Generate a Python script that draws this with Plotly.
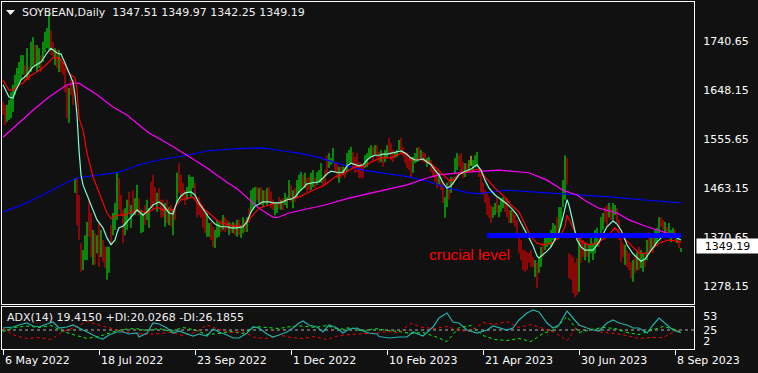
import plotly.graph_objects as go

# ------------------------------------------------------------------ data
# daily bars (index 0 = 6 May 2022), prices read from the picture
bar_high = [
    1626, 1620, 1620, 1629, 1644, 1658, 1677, 1690, 1701, 1714,
    1714, 1695, 1727, 1692, 1739, 1748, 1733, 1733, 1727, 1714,
    1739, 1758, 1765, 1795, 1761, 1739, 1727, 1724, 1724, 1709,
    1701, 1690, 1658, 1652, 1677, 1667, 1482, 1484, 1450, 1359,
    1346, 1374, 1399, 1441, 1416, 1384, 1378, 1374, 1397, 1384,
    1365, 1352, 1352, 1352, 1393, 1416, 1435, 1492, 1482, 1450,
    1422, 1425, 1441, 1456, 1431, 1459, 1444, 1469, 1444, 1422,
    1416, 1431, 1441, 1425, 1475, 1488, 1465, 1454, 1463, 1441,
    1441, 1435, 1441, 1427, 1431, 1422, 1431, 1492, 1510, 1488,
    1473, 1459, 1465, 1488, 1484, 1484, 1473, 1441, 1446, 1437,
    1431, 1416, 1416, 1397, 1399, 1390, 1384, 1403, 1397, 1403,
    1412, 1408, 1403, 1399, 1397, 1399, 1397, 1403, 1403, 1393,
    1408, 1403, 1408, 1425, 1459, 1463, 1465, 1465, 1463, 1465,
    1459, 1459, 1463, 1465, 1456, 1441, 1437, 1435, 1446, 1441,
    1444, 1454, 1446, 1478, 1469, 1459, 1463, 1478, 1488, 1493,
    1488, 1492, 1482, 1484, 1492, 1497, 1482, 1493, 1497, 1510,
    1482, 1497, 1525, 1529, 1520, 1539, 1512, 1510, 1503, 1503,
    1503, 1503, 1529, 1535, 1541, 1531, 1522, 1529, 1512, 1510,
    1507, 1525, 1529, 1539, 1544, 1541, 1544, 1544, 1531, 1535,
    1529, 1535, 1544, 1558, 1548, 1535, 1531, 1535, 1554, 1558,
    1541, 1529, 1529, 1520, 1516, 1522, 1529, 1539, 1541, 1535,
    1531, 1529, 1520, 1522, 1516, 1507, 1503, 1497, 1492, 1484,
    1475, 1446, 1473, 1478, 1484, 1484, 1520, 1529, 1525, 1529,
    1512, 1510, 1510, 1516, 1524, 1516, 1525, 1531, 1503, 1492,
    1473, 1459, 1454, 1446, 1431, 1427, 1435, 1446, 1431, 1444,
    1446, 1444, 1444, 1422, 1422, 1422, 1412, 1403, 1371, 1365,
    1346, 1346, 1342, 1340, 1346, 1333, 1327, 1322, 1331, 1352,
    1359, 1371, 1374, 1374, 1384, 1397, 1393, 1408, 1427, 1427,
    1478, 1525, 1520, 1340, 1337, 1333, 1322, 1331, 1371, 1378,
    1365, 1359, 1359, 1356, 1369, 1359, 1384, 1388, 1378, 1408,
    1416, 1427, 1431, 1435, 1427, 1435, 1431, 1425, 1403, 1371,
    1359, 1356, 1346, 1340, 1323, 1327, 1337, 1342, 1352, 1346,
    1340, 1342, 1365, 1380, 1374, 1378, 1384, 1388, 1408, 1408,
    1403, 1399, 1390, 1397, 1384, 1388, 1384, 1378, 1374, 1349.97,
]
bar_low = [
    1601, 1582, 1588, 1592, 1595, 1607, 1639, 1652, 1658, 1667,
    1677, 1663, 1671, 1667, 1682, 1695, 1690, 1682, 1690, 1682,
    1701, 1720, 1727, 1724, 1714, 1709, 1695, 1690, 1682, 1682,
    1677, 1644, 1595, 1586, 1639, 1620, 1454, 1393, 1365, 1305,
    1308, 1327, 1327, 1371, 1333, 1318, 1318, 1340, 1314, 1333,
    1323, 1312, 1290, 1303, 1356, 1374, 1384, 1403, 1422, 1412,
    1359, 1374, 1384, 1416, 1388, 1412, 1412, 1418, 1412, 1378,
    1380, 1393, 1403, 1388, 1425, 1422, 1435, 1418, 1431, 1407,
    1408, 1390, 1397, 1393, 1390, 1374, 1403, 1435, 1454, 1441,
    1444, 1431, 1441, 1454, 1446, 1463, 1441, 1408, 1412, 1407,
    1388, 1378, 1371, 1371, 1365, 1352, 1350, 1369, 1371, 1380,
    1384, 1380, 1384, 1374, 1378, 1378, 1374, 1371, 1374, 1369,
    1378, 1380, 1380, 1397, 1416, 1422, 1431, 1441, 1435, 1431,
    1427, 1435, 1431, 1437, 1425, 1422, 1412, 1416, 1425, 1422,
    1422, 1431, 1425, 1441, 1437, 1425, 1437, 1444, 1454, 1459,
    1465, 1463, 1456, 1459, 1459, 1465, 1463, 1469, 1473, 1473,
    1465, 1469, 1492, 1501, 1507, 1510, 1492, 1482, 1473, 1482,
    1488, 1482, 1493, 1510, 1510, 1501, 1492, 1493, 1482, 1482,
    1482, 1501, 1503, 1520, 1522, 1512, 1525, 1520, 1510, 1512,
    1503, 1512, 1520, 1529, 1516, 1512, 1520, 1522, 1535, 1529,
    1522, 1510, 1501, 1497, 1482, 1492, 1510, 1512, 1516, 1516,
    1512, 1510, 1503, 1510, 1493, 1484, 1475, 1463, 1469, 1459,
    1435, 1407, 1427, 1441, 1454, 1469, 1492, 1497, 1503, 1492,
    1482, 1484, 1493, 1493, 1505, 1493, 1503, 1503, 1484, 1454,
    1450, 1435, 1412, 1407, 1397, 1407, 1412, 1416, 1408, 1418,
    1425, 1418, 1408, 1397, 1397, 1397, 1390, 1374, 1340, 1327,
    1308, 1305, 1308, 1322, 1314, 1314, 1295, 1274, 1303, 1314,
    1333, 1346, 1352, 1356, 1352, 1365, 1365, 1378, 1380, 1390,
    1427, 1441, 1469, 1293, 1290, 1265, 1257, 1261, 1267, 1322,
    1333, 1327, 1333, 1322, 1340, 1327, 1340, 1352, 1352, 1369,
    1384, 1399, 1390, 1408, 1403, 1403, 1412, 1397, 1365, 1323,
    1333, 1318, 1314, 1308, 1293, 1286, 1303, 1308, 1308, 1312,
    1305, 1314, 1327, 1342, 1346, 1340, 1352, 1359, 1378, 1390,
    1384, 1378, 1369, 1374, 1361, 1371, 1365, 1359, 1350, 1342.25,
]
# G = up bar, R = down bar, Y = doji
bar_dir = list(
    "RRGGGGGGGG" "GRGRGGRGGR" "GGGGRRGRGR" "RRRGRRGRRR" "GGGRRGRGRG"
    "RRGGRGGGRR" "RGGRGRGGRG" "GRGGRRRGRR" "RGRGRGRGRR" "RRGGGGRRRR"
    "RRGGRRGGGR" "GRRGRGRGRG" "GRGRGGGRGR" "GRGRRRGGRG" "RGGGRGRGGG"
    "RGRRGGRGGG" "RRRGGGRRGR" "GRGGGRRRRR" "RGGGGRGRRG" "RGGRRRGGGR"
    "RRRRRGGGRG" "RRGGRRRRGR" "RGGRGRGGRR" "RGRGYGGGRR" "RRRRRGGRGG"
    "GRRRGRRRRR" "RRRRRRGRGG" "RGGGGGGRGG" "GGRRRRRRGR" "RGRGGGGGRG"
    "GRRGRGGRRR" "RGRRRGRGRG" "GRGRGRGGGR" "RGRGGGRGRG"
)

# fast moving average (aquamarine)
fast_idx = [0, 3, 5, 6, 9, 12, 15, 19, 22, 24, 27, 29, 31, 34, 35, 36, 37, 38, 39, 40,
            42, 44, 47, 50, 52, 54, 56, 57, 58, 60, 62, 64, 67, 70, 72, 75, 78, 80, 83, 85,
            87, 89, 91, 94, 96, 98, 101, 103, 106, 109, 112, 114, 117, 120, 122, 124, 126, 128, 130, 133,
            135, 138, 140, 142, 144, 146, 148, 150, 152, 155, 158, 160, 162, 164, 166, 168, 170, 172, 174, 176,
            178, 180, 182, 184, 186, 188, 190, 192, 194, 196, 199, 201, 204, 206, 208, 210, 212, 214, 216, 218,
            220, 222, 224, 226, 228, 230, 234, 237, 239, 241, 243, 246, 249, 252, 255, 257, 259, 261, 263, 265,
            267, 268, 270, 272, 274, 276, 278, 280, 282, 283, 285, 287, 289, 291, 295, 298, 300, 302, 305, 307,
            309, 312, 315, 317, 319, 321, 324, 327, 329, 331, 334, 336, 338, 339]
fast_val = [1658, 1635, 1633, 1644, 1667, 1677, 1692, 1701, 1718, 1727, 1718, 1716, 1699, 1671, 1663, 1639, 1601, 1535, 1488, 1469,
            1450, 1431, 1403, 1388, 1369, 1356, 1365, 1378, 1388, 1391, 1399, 1408, 1422, 1412, 1418, 1431, 1437, 1431, 1416, 1414,
            1437, 1448, 1454, 1456, 1450, 1435, 1418, 1407, 1395, 1390, 1390, 1388, 1388, 1390, 1399, 1418, 1429, 1433, 1437, 1437,
            1435, 1435, 1437, 1441, 1442, 1446, 1456, 1463, 1471, 1473, 1475, 1482, 1490, 1495, 1493, 1492, 1493, 1505, 1510, 1508,
            1505, 1507, 1516, 1522, 1525, 1525, 1527, 1527, 1529, 1531, 1533, 1529, 1520, 1516, 1516, 1518, 1512, 1507, 1497, 1488,
            1473, 1463, 1467, 1478, 1488, 1493, 1499, 1507, 1497, 1478, 1463, 1450, 1441, 1433, 1422, 1412, 1397, 1384, 1369, 1354,
            1335, 1331, 1337, 1344, 1352, 1365, 1380, 1408, 1441, 1431, 1399, 1365, 1352, 1346, 1346, 1361, 1376, 1390, 1401, 1395,
            1384, 1356, 1339, 1331, 1325, 1329, 1346, 1361, 1369, 1373, 1371, 1371, 1367, 1365]

# slower moving average (red)
mid_idx = [0, 3, 5, 8, 10, 13, 17, 20, 23, 25, 28, 31, 33, 36, 37, 38, 40, 42, 45, 48,
           52, 54, 57, 61, 67, 72, 77, 80, 85, 89, 95, 98, 103, 108, 115, 120, 122, 125, 128, 133,
           138, 143, 148, 155, 160, 163, 166, 169, 173, 176, 181, 184, 189, 194, 199, 202, 204, 209, 213, 216,
           219, 223, 225, 228, 231, 235, 238, 241, 246, 251, 254, 258, 261, 264, 267, 270, 274, 278, 281, 282,
           285, 288, 293, 297, 302, 306, 308, 313, 318, 322, 325, 328, 333, 339]
mid_val = [1667, 1648, 1648, 1658, 1661, 1673, 1682, 1690, 1701, 1709, 1709, 1695, 1680, 1671, 1648, 1595, 1573, 1529, 1484, 1454,
           1416, 1405, 1412, 1412, 1422, 1416, 1427, 1422, 1422, 1441, 1446, 1431, 1416, 1399, 1391, 1391, 1399, 1412, 1425, 1431,
           1435, 1442, 1446, 1459, 1467, 1475, 1484, 1488, 1497, 1503, 1505, 1512, 1520, 1520, 1529, 1529, 1516, 1518, 1512, 1503,
           1492, 1478, 1478, 1490, 1493, 1497, 1499, 1484, 1463, 1446, 1431, 1418, 1393, 1371, 1359, 1356, 1359, 1369, 1390, 1412,
           1388, 1365, 1356, 1359, 1371, 1388, 1378, 1359, 1340, 1340, 1350, 1359, 1365, 1361]

# 50-period moving average (magenta)
ma50_idx = [0, 4, 8, 15, 23, 32, 36, 38, 47, 55, 62, 65, 70, 73, 82, 92, 102, 112, 118, 125,
            128, 135, 137, 143, 153, 161, 173, 190, 202, 212, 218, 232, 240, 248, 263, 272, 280, 287, 292, 298,
            307, 313, 322, 330, 338, 339]
ma50_val = [1559, 1573, 1586, 1610, 1635, 1658, 1661, 1661, 1639, 1616, 1601, 1591, 1576, 1567, 1548, 1525, 1501, 1474, 1459, 1435,
            1425, 1408, 1407, 1416, 1424, 1431, 1444, 1459, 1469, 1482, 1488, 1493, 1495, 1497, 1492, 1478, 1459, 1450, 1437, 1425,
            1416, 1403, 1390, 1380, 1371, 1370]

# 200-period moving average (blue)
ma200_idx = [0, 8, 20, 32, 37, 48, 58, 68, 78, 92, 102, 115, 130, 140, 148, 157, 167, 180, 193, 203,
             213, 223, 232, 237, 243, 252, 272, 288, 305, 322, 338, 339]
ma200_val = [1418, 1429, 1450, 1474, 1482, 1488, 1493, 1507, 1516, 1525, 1533, 1537, 1539, 1533, 1529, 1522, 1510, 1497, 1490, 1484,
             1475, 1463, 1455, 1452, 1455, 1459, 1454, 1450, 1446, 1440, 1435, 1435]

# ADX(14) panel
adx_idx = [0, 5, 8, 12, 15, 18, 22, 25, 28, 32, 35, 38, 42, 45, 48, 50, 53, 57, 60, 63,
           67, 68, 72, 75, 78, 82, 85, 88, 92, 95, 98, 102, 105, 108, 112, 115, 118, 122, 125, 128,
           132, 135, 138, 142, 145, 148, 150, 153, 157, 160, 163, 167, 170, 173, 177, 180, 183, 187, 188, 193,
           198, 202, 205, 210, 215, 218, 222, 225, 228, 232, 237, 242, 245, 248, 252, 255, 258, 262, 265, 268,
           272, 275, 278, 282, 285, 288, 292, 295, 298, 302, 305, 308, 312, 315, 318, 322, 325, 328, 332, 335, 339]
adx_val = [29, 31, 35, 39, 33, 31, 37, 41, 29, 31, 35, 29, 21, 15, 9, 7, 15, 21, 21, 17,
           19, 11, 19, 39, 37, 29, 19, 23, 17, 13, 17, 13, 27, 21, 15, 9, 9, 19, 31, 29,
           17, 11, 15, 21, 29, 39, 43, 35, 31, 21, 35, 29, 19, 27, 29, 23, 19, 17, 12, 9,
           11, 11, 21, 13, 31, 49, 59, 41, 39, 25, 19, 25, 33, 29, 25, 29, 45, 59, 65, 61,
           39, 29, 35, 63, 49, 35, 29, 25, 23, 39, 45, 39, 35, 29, 29, 19, 35, 49, 35, 25, 19.415]
di_idx = [0, 6, 12, 18, 24, 30, 36, 42, 48, 54, 60, 66, 72, 78, 84, 90, 96, 102, 108, 114,
          120, 126, 132, 138, 144, 150, 156, 162, 168, 174, 180, 186, 192, 198, 204, 210, 216, 222, 228, 234,
          240, 246, 252, 258, 264, 270, 276, 282, 288, 294, 300, 306, 312, 318, 324, 330, 336, 339]
plus_di = [22, 30, 33, 30, 34, 22, 15, 8, 12, 20, 26, 28, 24, 28, 22, 30, 25, 16, 18, 22,
           18, 32, 30, 28, 32, 33, 30, 34, 26, 30, 22, 28, 24, 22, 18, 20, 12, 2, 30, 34,
           14, 6, 4, 8, 2, 18, 26, 52, 20, 26, 30, 28, 20, 16, 24, 32, 26, 20.0268]
minus_di = [28, 14, 8, 10, 6, 22, 30, 42, 35, 28, 22, 18, 16, 18, 20, 14, 20, 35, 26, 20,
            22, 10, 8, 15, 10, 8, 12, 6, 14, 16, 18, 18, 22, 20, 38, 30, 28, 32, 24, 22,
            40, 36, 42, 30, 36, 28, 20, 4, 36, 26, 20, 18, 14, 8, 10, 10, 22, 26.1855]

price_ticks = [1278.15, 1370.65, 1463.15, 1555.65, 1648.15, 1740.65]
adx_ticks = [2, 25, 53]
adx_levels = [25]
date_idx = [0, 48, 96, 144, 192, 240, 288, 336]
date_labels = ["6 May 2022", "18 Jul 2022", "23 Sep 2022", "1 Dec 2022",
               "10 Feb 2023", "21 Apr 2023", "30 Jun 2023", "8 Sep 2023"]
crucial_level = 1373.5
crucial_from, crucial_to = 242, 339
last_ohlc = [1347.51, 1349.97, 1342.25, 1349.19]
adx_last = [19.4150, 20.0268, 26.1855]

# ------------------------------------------------------------------ figure
W, H = 758, 373
BG = "#111111"
FONT = "DejaVu Sans"


def fx(p):
    return p / W


def fy(p):
    return 1 - p / H


fig = go.Figure()

# price bars: one vertical low-high segment per day, one trace per colour
bar_colors = {"G": "#00ff00", "R": "#ff0000", "Y": "#ffff00"}
for d, col in bar_colors.items():
    xs, ys = [], []
    for i, dd in enumerate(bar_dir):
        if dd == d:
            xs += [i, i, None]
            ys += [bar_low[i], bar_high[i], None]
    fig.add_trace(go.Scatter(x=xs, y=ys, mode="lines", line=dict(color=col, width=1),
                             hoverinfo="skip", xaxis="x", yaxis="y"))

for xi, yv, col in [(ma200_idx, ma200_val, "#0000ff"), (ma50_idx, ma50_val, "#ff00ff"),
                    (mid_idx, mid_val, "#ff0000"), (fast_idx, fast_val, "#7fffd4")]:
    fig.add_trace(go.Scatter(x=xi, y=yv, mode="lines", line=dict(color=col, width=1.2),
                             hoverinfo="skip", xaxis="x", yaxis="y"))

# crucial level band
fig.add_trace(go.Scatter(x=[crucial_from, crucial_to], y=[crucial_level, crucial_level], mode="lines",
                         line=dict(color="#0000ff", width=5), hoverinfo="skip", xaxis="x", yaxis="y"))

# ADX panel
for lv in adx_levels:
    fig.add_trace(go.Scatter(x=[-1, 346], y=[lv, lv], mode="lines",
                             line=dict(color="#b0b0b0", width=1, dash="3px,3px"),
                             hoverinfo="skip", xaxis="x2", yaxis="y2"))
fig.add_trace(go.Scatter(x=di_idx, y=plus_di, mode="lines", line=dict(color="#00ff00", width=1, dash="3px,3px"),
                         hoverinfo="skip", xaxis="x2", yaxis="y2"))
fig.add_trace(go.Scatter(x=di_idx, y=minus_di, mode="lines", line=dict(color="#ff0000", width=1, dash="3px,3px"),
                         hoverinfo="skip", xaxis="x2", yaxis="y2"))
fig.add_trace(go.Scatter(x=adx_idx, y=adx_val, mode="lines", line=dict(color="#20b2aa", width=1.2),
                         hoverinfo="skip", xaxis="x2", yaxis="y2"))

xr = [-0.5, 345.5]
axis_common = dict(showgrid=False, zeroline=False, showline=True, linecolor="#ffffff", linewidth=1, mirror=True)
fig.update_layout(
    width=W, height=H, margin=dict(l=0, r=0, t=0, b=0), autosize=False,
    paper_bgcolor=BG, plot_bgcolor=BG, showlegend=False,
    xaxis=dict(domain=[fx(2), fx(694)], range=xr, showticklabels=False, ticks="", anchor="y", **axis_common),
    yaxis=dict(domain=[fy(304), fy(2)], range=[1244.17, 1814.27], side="right", anchor="x",
               tickvals=price_ticks, ticktext=[f"{v:.2f}" for v in price_ticks], ticks="",
               ticklabelstandoff=6, tickfont=dict(family=FONT, size=11, color="#ffffff"), **axis_common),
    xaxis2=dict(domain=[fx(2), fx(694)], range=xr, anchor="y2", tickvals=date_idx,
                ticktext=[""] * len(date_idx), ticks="outside", ticklen=5, tickcolor="#ffffff", **axis_common),
    yaxis2=dict(domain=[fy(349), fy(307)], range=[-13, 71], side="right", anchor="x2",
                tickvals=adx_ticks, ticktext=[str(v) for v in adx_ticks], ticks="",
                ticklabelstandoff=6, tickfont=dict(family=FONT, size=11, color="#ffffff"), **axis_common),
)

ann = []
ann.append(dict(x=fx(20), y=fy(12), xref="paper", yref="paper", xanchor="left", yanchor="middle",
                text="SOYBEAN,Daily\u00a0\u00a0" + " ".join(f"{v:.2f}" for v in last_ohlc),
                showarrow=False, font=dict(family=FONT, size=11, color="#f0f0f0")))
ann.append(dict(x=fx(5), y=fy(317.5), xref="paper", yref="paper", xanchor="left", yanchor="middle",
                text=f"ADX(14) {adx_last[0]:.4f} +DI:{adx_last[1]:.4f} -DI:{adx_last[2]:.4f}",
                showarrow=False, font=dict(family=FONT, size=11, color="#f0f0f0")))
ann.append(dict(x=233.25, y=1337, xref="x", yref="y", xanchor="center", yanchor="middle",
                text="crucial level", showarrow=False,
                font=dict(family="Liberation Sans", size=15.5, color="#ff0000")))
ann.append(dict(x=fx(696), y=last_ohlc[3], xref="paper", yref="y", xanchor="left", yanchor="middle",
                yshift=2, text=f"{last_ohlc[3]:.2f}", showarrow=False, bgcolor="#ffffff",
                width=59, height=12, borderpad=1, align="center",
                font=dict(family=FONT, size=11, color="#000000")))
for xi, lab in zip(date_idx, date_labels):
    ann.append(dict(x=xi, y=fy(360), xref="x2", yref="paper", xanchor="left", yanchor="middle",
                    text=lab, showarrow=False, font=dict(family=FONT, size=11, color="#ffffff")))
fig.update_layout(annotations=ann)

# small "collapse" triangle in the title
tri = [(6, 10), (15, 10), (10.5, 15)]
path = "M " + " L ".join(f"{fx(a):.5f},{fy(b):.5f}" for a, b in tri) + " Z"
fig.add_shape(type="path", path=path, xref="paper", yref="paper", fillcolor="#f0f0f0", line=dict(width=0))

fig.write_html("out.html")
